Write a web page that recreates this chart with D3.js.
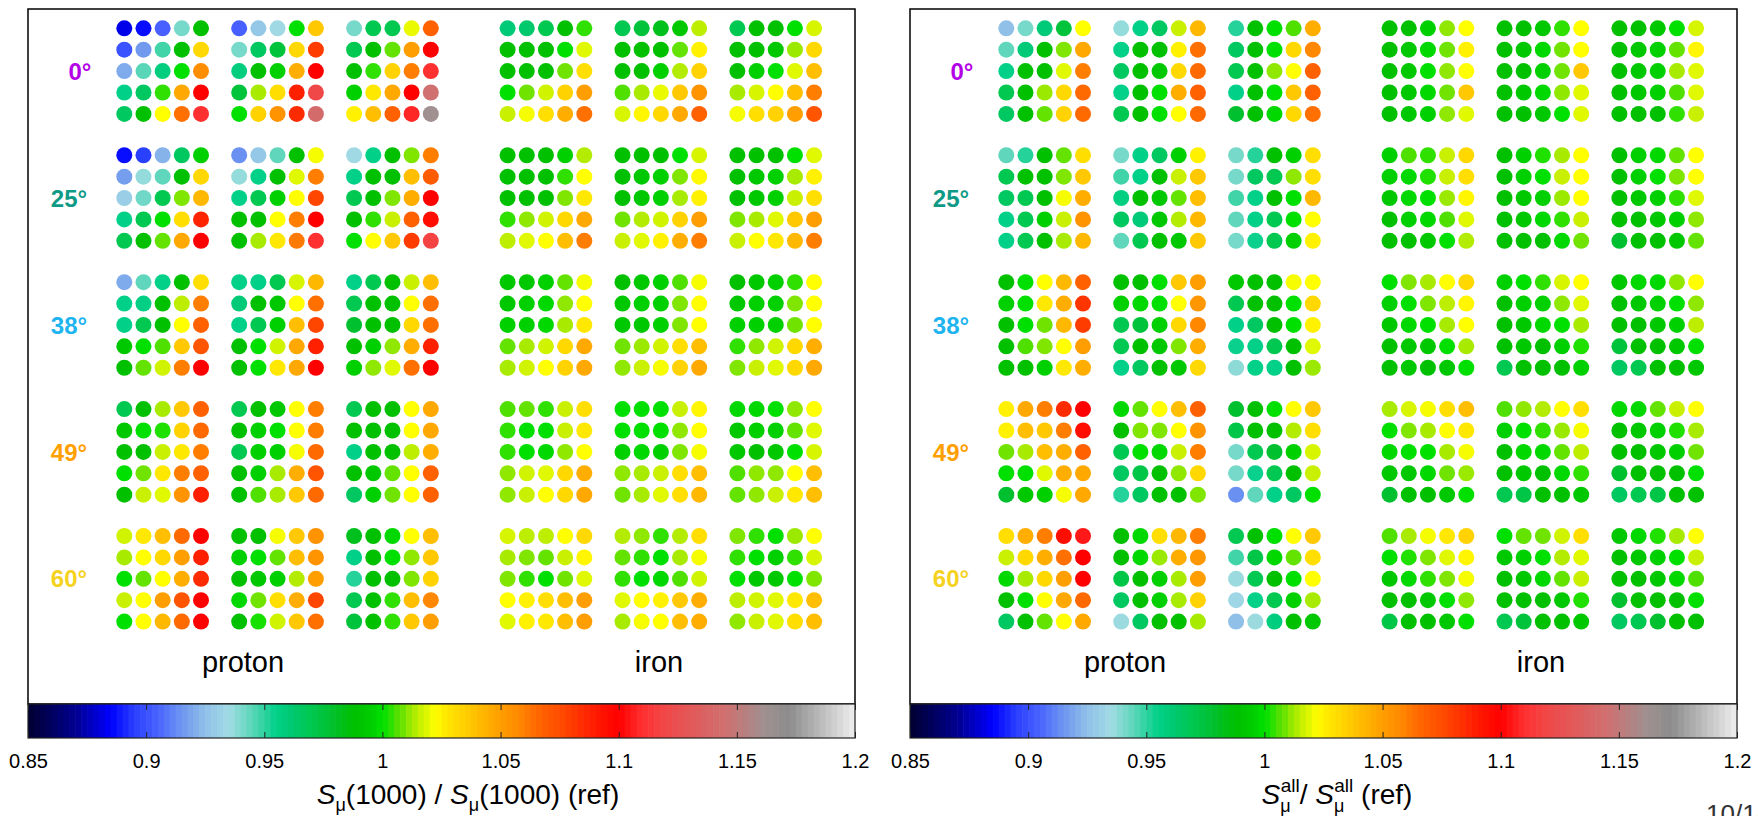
<!DOCTYPE html>
<html>
<head>
<meta charset="utf-8">
<script src="https://cdn.jsdelivr.net/npm/d3@7"></script>
<style>
  body { margin: 0; background: #fff; }
  svg { display: block; font-family: "Liberation Sans", Arial, sans-serif; }
</style>
</head>
<body>
<svg id="chart" width="1758" height="816"></svg>
<script>
/* Muon signal ratio maps, 5 zenith rows x 6 energy/primary groups x 5x5 grid.
 * Groups 0-2 are proton, 3-5 iron. Values read by eye from the colours.
 */

var zenithLabels = ["0°", "25°", "38°", "49°", "60°"];
var primaries = ["proton", "iron"];
var ratioTicks = [0.85, 0.9, 0.95, 1, 1.05, 1.1, 1.15, 1.2];

// left panel: S_mu(1000) / S_mu(1000)(ref)
var muRatio1000 = [
  [ // 0 deg
    [.882,.887,.904,.941,.988, .900,.916,.948,.988,1.032, .920,.945,.958,1.000,1.056, .955,.966,1.004,1.047,1.100, .966,.988,1.022,1.063,1.110],
    [.904,.928,.934,1.000,1.037, .941,.966,.975,1.032,1.080, .958,.988,.996,1.045,1.100, .975,1.013,1.030,1.088,1.120, 1.000,1.034,1.054,1.085,1.142],
    [.941,.970,.970,1.020,1.068, .970,.988,1.008,1.050,1.100, .988,1.004,1.034,1.060,1.110, .996,1.027,1.047,1.100,1.145, 1.025,1.040,1.068,1.108,1.162],
    [.960,.963,.970,.988,1.004, .988,.988,.988,1.000,1.019, .988,.988,.988,1.009,1.030, 1.000,1.009,1.017,1.034,1.050, 1.016,1.021,1.030,1.045,1.063],
    [.970,.975,.982,.993,1.015, .988,.988,.988,1.008,1.025, .988,.988,.996,1.014,1.034, 1.006,1.013,1.020,1.037,1.054, 1.018,1.024,1.032,1.047,1.068],
    [.970,.988,.988,1.000,1.018, .988,.988,.993,1.012,1.032, .988,.996,1.000,1.019,1.040, 1.013,1.018,1.022,1.040,1.060, 1.021,1.030,1.034,1.050,1.072]
  ],
  [ // 25 deg
    [.887,.895,.922,.966,.996, .917,.937,.944,.988,1.032, .930,.942,.970,1.010,1.042, .955,.970,1.000,1.030,1.087, .970,.988,1.008,1.047,1.100],
    [.914,.928,.944,.988,1.021, .937,.955,.988,1.019,1.060, .955,.970,.996,1.022,1.077, .988,.988,1.022,1.060,1.100, .988,1.013,1.027,1.061,1.110],
    [.934,.955,.988,1.010,1.060, .955,.988,.988,1.040,1.070, .970,.988,1.010,1.045,1.100, .988,1.004,1.016,1.068,1.095, 1.000,1.022,1.037,1.080,1.118],
    [.988,.988,.988,.996,1.014, .988,.988,.988,1.004,1.022, .988,.988,.988,1.010,1.027, 1.004,1.011,1.017,1.032,1.047, 1.015,1.019,1.022,1.040,1.060],
    [.988,.988,.988,1.000,1.018, .988,.993,.996,1.010,1.023, .988,.993,.996,1.013,1.025, 1.009,1.014,1.017,1.034,1.050, 1.016,1.019,1.025,1.045,1.060],
    [.988,.988,.988,1.000,1.019, .988,.993,.996,1.013,1.025, .988,.993,.996,1.016,1.030, 1.010,1.013,1.019,1.037,1.050, 1.016,1.022,1.027,1.042,1.060]
  ],
  [ // 38 deg
    [.920,.944,.955,.988,1.030, .955,.956,.988,1.015,1.060, .955,.970,.988,1.022,1.068, .993,1.000,1.006,1.037,1.072, .988,1.008,1.017,1.060,1.100],
    [.955,.955,.970,1.018,1.042, .960,.988,.993,1.022,1.063, .955,.970,.996,1.040,1.077, .988,1.000,1.017,1.047,1.088, .988,1.000,1.027,1.047,1.100],
    [.955,.970,.988,1.016,1.040, .970,.988,.988,1.022,1.063, .978,.988,.988,1.032,1.063, .988,.996,1.011,1.045,1.088, .996,1.011,1.019,1.063,1.100],
    [.993,.993,.996,1.008,1.021, .993,.996,.998,1.011,1.022, .996,.996,.998,1.013,1.027, 1.008,1.013,1.017,1.032,1.047, 1.013,1.017,1.022,1.034,1.047],
    [.988,.993,.996,1.006,1.021, .993,.996,.996,1.010,1.022, .993,.993,.996,1.010,1.022, 1.009,1.012,1.017,1.030,1.040, 1.011,1.016,1.021,1.034,1.047],
    [.988,.993,.996,1.004,1.022, .993,.996,.996,1.010,1.022, .996,.996,.996,1.009,1.022, 1.004,1.011,1.017,1.032,1.045, 1.010,1.016,1.019,1.032,1.047]
  ],
  [ // 49 deg
    [.970,.988,1.013,1.037,1.068, .993,1.000,1.003,1.034,1.065, .988,.988,1.016,1.027,1.060, 1.000,1.009,1.027,1.060,1.068, .988,1.016,1.019,1.054,1.088],
    [.970,.988,.993,1.022,1.060, .988,.996,1.000,1.022,1.060, .970,.996,.996,1.021,1.065, .988,.996,1.013,1.045,1.072, .988,1.006,1.013,1.037,1.065],
    [.970,.988,.988,1.022,1.047, .988,.988,.988,1.022,1.047, .955,.988,.988,1.015,1.045, .988,.993,1.008,1.022,1.068, .966,.996,1.009,1.022,1.068],
    [1.006,1.008,1.004,1.016,1.030, 1.004,1.000,1.000,1.016,1.027, 1.004,1.000,.998,1.011,1.022, 1.011,1.017,1.019,1.032,1.045, 1.011,1.016,1.022,1.032,1.047],
    [1.000,1.000,1.000,1.016,1.024, 1.000,1.000,1.000,1.011,1.022, .996,.998,.996,1.010,1.021, 1.011,1.013,1.016,1.030,1.040, 1.009,1.013,1.019,1.030,1.042],
    [.998,.998,1.000,1.011,1.022, .993,.996,.996,1.008,1.019, .993,.988,.993,1.000,1.018, 1.006,1.011,1.011,1.022,1.040, 1.008,1.011,1.016,1.027,1.040]
  ],
  [ // 60 deg
    [1.017,1.027,1.040,1.065,1.100, 1.013,1.022,1.032,1.050,1.088, 1.000,1.008,1.022,1.045,1.085, 1.016,1.022,1.050,1.072,1.100, 1.000,1.022,1.042,1.065,1.100],
    [.988,.988,1.021,1.037,1.054, .996,1.000,1.008,1.040,1.054, .988,.993,.996,1.014,1.050, .998,1.009,1.030,1.045,1.077, .988,1.002,1.017,1.037,1.063],
    [.982,.988,.998,1.022,1.040, .955,.988,1.000,1.011,1.037, .951,.988,.988,1.010,1.034, .970,.988,1.004,1.040,1.058, .975,.988,1.004,1.037,1.050],
    [1.018,1.015,1.015,1.022,1.032, 1.013,1.010,1.008,1.016,1.024, 1.010,1.004,1.000,1.009,1.019, 1.022,1.025,1.030,1.040,1.050, 1.019,1.025,1.027,1.040,1.050],
    [1.014,1.011,1.004,1.014,1.030, 1.008,1.004,1.000,1.013,1.021, 1.004,1.000,.998,1.006,1.017, 1.019,1.022,1.025,1.037,1.045, 1.013,1.021,1.022,1.040,1.045],
    [1.010,1.004,1.000,1.012,1.022, 1.004,1.000,.996,1.004,1.018, 1.000,.993,.993,1.000,1.010, 1.015,1.017,1.019,1.027,1.040, 1.011,1.016,1.019,1.030,1.040]
  ]
];

// right panel: S_mu^all / S_mu^all(ref)
var muRatioAll = [
  [ // 0 deg
    [.925,.941,.960,.975,1.022, .944,.960,.988,1.010,1.047, .955,.988,.988,1.019,1.060, .970,.988,1.012,1.032,1.065, .966,.988,1.008,1.034,1.065],
    [.937,.955,.966,1.016,1.042, .955,.988,.988,1.025,1.063, .966,.988,.993,1.032,1.065, .955,.988,1.000,1.045,1.068, .970,.988,1.000,1.022,1.065],
    [.951,.988,1.000,1.006,1.045, .966,.988,1.000,1.032,1.058, .970,.988,1.011,1.022,1.068, .955,.988,1.000,1.037,1.068, .978,.988,.998,1.032,1.063],
    [.988,.988,.996,1.011,1.022, .988,.993,.998,1.009,1.025, .988,.993,1.000,1.011,1.022, .988,.993,.998,1.009,1.037, .988,.993,.996,1.011,1.019],
    [.988,.988,.993,1.004,1.022, .988,.993,.998,1.009,1.022, .988,.988,.996,1.009,1.037, .988,.993,.998,1.011,1.019, .988,.988,.993,1.000,1.019],
    [.988,.988,.993,1.000,1.018, .988,.993,.996,1.008,1.024, .988,.993,.996,1.013,1.019, .988,.993,.996,1.006,1.019, .988,.988,.988,1.004,1.016]
  ],
  [ // 25 deg
    [.944,.951,.988,1.008,1.030, .970,.988,.988,1.010,1.037, .966,.970,.988,1.021,1.045, .955,.970,.996,1.016,1.054, .955,.970,.988,1.013,1.042],
    [.941,.955,.966,.996,1.025, .948,.955,.988,1.016,1.037, .957,.988,.993,1.008,1.040, .966,.960,.993,1.014,1.042, .944,.970,.988,.993,1.037],
    [.941,.951,.988,.996,1.030, .941,.966,.970,1.011,1.030, .948,.955,.988,1.000,1.042, .944,.955,.970,1.000,1.022, .941,.954,.970,.996,1.025],
    [.996,1.006,1.004,1.016,1.032, .996,.998,1.003,1.016,1.030, .993,.998,1.000,1.012,1.024, .988,.996,.998,1.006,1.019, .988,.988,.993,1.000,1.014],
    [.988,.996,1.003,1.013,1.022, .988,.996,1.000,1.016,1.022, .988,.993,.996,1.012,1.022, .988,.993,.998,1.004,1.016, .988,.988,.988,.998,1.009],
    [.988,.996,.998,1.008,1.022, .988,.996,1.000,1.010,1.022, .988,.993,.996,1.004,1.019, .988,.988,.993,.996,1.011, .978,.988,.988,.993,1.008]
  ],
  [ // 38 deg
    [.988,1.000,1.022,1.042,1.068, .996,1.000,1.027,1.045,1.082, .988,1.000,1.009,1.042,1.080, .988,1.006,1.010,1.022,1.050, .988,.988,.996,1.027,1.045],
    [.988,.988,1.000,1.037,1.050, .996,.998,1.000,1.022,1.052, .970,.975,.996,1.032,1.058, .970,.988,.993,1.010,1.045, .955,.966,.988,.993,1.032],
    [.993,.988,.988,1.021,1.022, .970,.988,.988,1.000,1.032, .955,.966,.988,1.000,1.025, .954,.955,.970,.988,1.019, .938,.955,.955,.988,1.012],
    [1.000,1.010,1.013,1.022,1.032, .996,1.000,1.010,1.015,1.024, .993,.998,1.000,1.013,1.022, .988,.993,.993,1.000,1.013, .988,.993,.988,.993,1.000],
    [.996,1.000,1.004,1.018,1.022, .988,.996,.996,1.011,1.019, .988,.993,.998,1.000,1.013, .988,.993,.988,.996,1.003, .970,.988,.988,.988,.996],
    [.993,.998,.998,1.011,1.022, .988,.993,.996,1.000,1.011, .988,.988,.993,.996,1.015, .975,.988,.988,.993,1.000, .966,.970,.988,.988,.993]
  ],
  [ // 49 deg
    [1.025,1.047,1.060,1.085,1.100, 1.025,1.040,1.037,1.060,1.095, 1.009,1.013,1.040,1.045,1.068, 1.000,1.000,1.019,1.045,1.047, .978,.993,.996,1.021,1.047],
    [.998,1.008,1.022,1.040,1.068, .988,1.010,1.010,1.022,1.054, .970,1.000,.998,1.016,1.060, .966,.972,.988,1.011,1.032, .951,.966,.988,.988,1.010],
    [.978,.988,1.000,1.022,1.037, .972,.988,.988,1.014,1.030, .941,.970,.978,.996,1.018, .941,.954,.970,.988,1.016, .914,.944,.955,.966,1.000],
    [1.013,1.018,1.021,1.030,1.040, 1.000,1.010,1.013,1.022,1.027, .998,1.000,1.000,1.013,1.021, .993,.993,.998,1.009,1.012, .978,.988,.988,.993,1.000],
    [1.006,1.011,1.014,1.022,1.030, .996,1.000,1.004,1.012,1.021, .988,.998,.998,1.008,1.015, .988,.993,.988,.998,1.004, .970,.972,.988,.988,.993],
    [.998,.998,1.008,1.016,1.022, .988,.993,.996,1.003,1.013, .988,.988,.993,.996,1.009, .978,.988,.988,.988,1.000, .966,.970,.972,.988,.988]
  ],
  [ // 60 deg
    [1.030,1.045,1.060,1.095,1.105, 1.016,1.032,1.045,1.063,1.100, .998,1.013,1.032,1.050,1.100, .988,1.000,1.022,1.047,1.065, .966,.988,1.008,1.022,1.047],
    [.988,.998,1.030,1.042,1.060, .988,.998,1.012,1.045,1.052, .972,.988,.996,1.013,1.050, .966,.988,.996,1.013,1.034, .936,.966,.988,.988,1.013],
    [.970,.988,1.000,1.022,1.037, .948,.972,.998,1.008,1.030, .936,.970,.988,1.000,1.022, .933,.955,.970,.996,1.013, .925,.936,.958,.988,.993],
    [1.006,1.013,1.021,1.027,1.034, 1.000,1.003,1.010,1.019,1.024, .993,.998,1.004,1.010,1.021, .988,.988,.993,1.000,1.011, .972,.988,.988,.993,1.000],
    [1.000,1.008,1.009,1.017,1.030, .993,.996,1.000,1.014,1.019, .988,.993,.998,1.008,1.016, .988,.988,.988,.993,1.003, .970,.975,.988,.988,.993],
    [.993,.998,1.003,1.013,1.022, .988,.993,.996,1.000,1.016, .988,.988,.993,.998,1.006, .978,.988,.988,.988,1.000, .966,.970,.978,.988,.988]
  ]
];

/* ---------------- styling ---------------- */

var zenithColors = ["#b400e6", "#0f9a86", "#1eb4f0", "#ff9f00", "#f5d21e"];

// ROOT-like palette, piecewise linear
var paletteStops = [0.85, 0.87, 0.885, 0.895, 0.905, 0.915, 0.925, 0.935, 0.942, 0.948, 0.955, 0.962,
  0.97, 0.978, 0.988, 0.993, 0.996, 0.998, 1.0, 1.003, 1.006, 1.009, 1.011, 1.013, 1.016, 1.019, 1.022,
  1.027, 1.032, 1.037, 1.042, 1.047, 1.052, 1.058, 1.063, 1.068, 1.074, 1.08, 1.088, 1.1, 1.11, 1.12,
  1.145, 1.162, 1.172, 1.2];
var paletteColors = ["#000030", "#000090", "#0000ff", "#2a40ff", "#4a64ff", "#6e96f0", "#90c0e8", "#a2dce4",
  "#70d8c6", "#40d4a8", "#00d088", "#00c870", "#00c850", "#00c030", "#00c000", "#00c800", "#00d000",
  "#00d800", "#00e000", "#20e000", "#50e000", "#70e400", "#90e800", "#a8ea00", "#c8f000", "#e0f800",
  "#ffff00", "#ffe800", "#ffd800", "#ffc800", "#ffb800", "#ffa800", "#ff9800", "#ff8800", "#ff7000",
  "#ff6000", "#ff5000", "#ff3c00", "#ff2000", "#ff0000", "#ff3030", "#f04848", "#d07070", "#a09090",
  "#8c8c8c", "#eeeeee"];

var color = d3.scaleLinear().domain(paletteStops).range(paletteColors).clamp(true);

var svg = d3.select("#chart");

var frame = {left: 28, right: 855, top: 9, bottom: 704};
var barHeight = 34;

var panels = [
  {dx: 0, values: muRatio1000, kind: "1000", titleX: 468},
  {dx: 882, values: muRatioAll, kind: "all", titleX: 1337}
];

// dot layout
var colX = d3.scaleLinear().domain([0, 4]).range([0, 76.7]);
var rowY = d3.scaleLinear().domain([0, 4]).range([0, 85.6]);
var groupX = d3.scaleLinear().domain([0, 2]).range([0, 229.8]);
var primaryX = d3.scaleOrdinal().domain(primaries).range([124.3, 507.6]);
var zenithY = d3.scaleLinear().domain([0, 4]).range([28.3, 536]);

panels.forEach(function (p) {
  var g = svg.append("g").attr("transform", "translate(" + p.dx + ",0)");

  // flatten into dots
  var dots = [];
  p.values.forEach(function (zen, zi) {
    zen.forEach(function (grid, gi) {
      grid.forEach(function (v, i) {
        dots.push({
          z: zi,
          primary: primaries[Math.floor(gi / 3)],
          e: gi % 3,
          row: Math.floor(i / 5),
          col: i % 5,
          v: v
        });
      });
    });
  });

  g.selectAll("circle.dot")
    .data(dots)
    .enter().append("circle")
    .attr("class", "dot")
    .attr("cx", function (d) { return primaryX(d.primary) + groupX(d.e) + colX(d.col); })
    .attr("cy", function (d) { return zenithY(d.z) + rowY(d.row); })
    .attr("r", 8)
    .attr("fill", function (d) { return color(d.v); });

  // zenith labels
  g.selectAll("text.zen")
    .data(zenithLabels)
    .enter().append("text")
    .attr("class", "zen")
    .attr("x", function (d, i) { return i === 0 ? 80 : 69; })
    .attr("y", function (d, i) { return zenithY(i) + rowY(2); })
    .attr("dy", "0.36em")
    .attr("text-anchor", "middle")
    .attr("font-size", 24)
    .attr("font-weight", "bold")
    .attr("fill", function (d, i) { return zenithColors[i]; })
    .text(function (d) { return d; });

  // primary labels
  g.selectAll("text.prim")
    .data(primaries)
    .enter().append("text")
    .attr("class", "prim")
    .attr("x", function (d) { return d === "proton" ? 243 : 659; })
    .attr("y", 672)
    .attr("text-anchor", "middle")
    .attr("font-size", 29)
    .text(function (d) { return d; });

  // frame
  g.append("rect")
    .attr("x", frame.left).attr("y", frame.top)
    .attr("width", frame.right - frame.left)
    .attr("height", frame.bottom - frame.top)
    .attr("fill", "none").attr("stroke", "#000").attr("stroke-width", 1.5);

  // colour bar
  var bx = d3.scaleLinear().domain([0.85, 1.2]).range([frame.left, frame.right]);
  var nBins = 140;
  var step = (1.2 - 0.85) / nBins;
  g.selectAll("rect.bin")
    .data(d3.range(nBins))
    .enter().append("rect")
    .attr("class", "bin")
    .attr("x", function (i) { return bx(0.85 + i * step); })
    .attr("y", frame.bottom)
    .attr("width", bx(0.85 + step) - bx(0.85) + 0.6)
    .attr("height", barHeight)
    .attr("fill", function (i) { return color(0.85 + (i + 0.5) * step); });

  g.append("rect")
    .attr("x", frame.left).attr("y", frame.bottom)
    .attr("width", frame.right - frame.left).attr("height", barHeight)
    .attr("fill", "none").attr("stroke", "#222").attr("stroke-width", 1.2);

  var axB = g.append("g")
    .attr("transform", "translate(0," + (frame.bottom + barHeight) + ")")
    .call(d3.axisBottom(bx).tickValues(ratioTicks).tickSize(-6).tickPadding(16)
      .tickFormat(d3.format("~g")));
  axB.select(".domain").remove();
  axB.selectAll("text").attr("font-size", 20).attr("font-family", "Liberation Sans, Arial, sans-serif").attr("fill", "#000");
  axB.selectAll("line").attr("stroke", "#222");

  var axT = g.append("g")
    .attr("transform", "translate(0," + frame.bottom + ")")
    .call(d3.axisTop(bx).tickValues(ratioTicks).tickSize(-6).tickFormat(""));
  axT.select(".domain").remove();
  axT.selectAll("line").attr("stroke", "#222");

  // axis title
  var t = g.append("text")
    .attr("x", p.titleX - p.dx).attr("y", 804)
    .attr("text-anchor", "middle")
    .attr("font-size", 28);
  if (p.kind === "1000") {
    t.append("tspan").attr("font-style", "italic").text("S");
    t.append("tspan").attr("font-size", 18).attr("dy", 7).text("μ");
    t.append("tspan").attr("dy", -7).text("(1000) / ");
    t.append("tspan").attr("font-style", "italic").text("S");
    t.append("tspan").attr("font-size", 18).attr("dy", 7).text("μ");
    t.append("tspan").attr("dy", -7).text("(1000) (ref)");
  } else {
    for (var k = 0; k < 2; k++) {
      t.append("tspan").attr("font-style", "italic").text("S");
      t.append("tspan").attr("font-size", 18).attr("dy", 8).text("μ");
      t.append("tspan").attr("font-size", 19).attr("dx", -10).attr("dy", -20).text("all");
      t.append("tspan").attr("dy", 12).text(k === 0 ? "/ " : " (ref)");
    }
  }
});

// page number, cut by the bottom edge as in the original
svg.append("text")
  .attr("x", 1706).attr("y", 823)
  .attr("font-size", 26)
  .attr("fill", "#333")
  .text("10/14");
</script>
</body>
</html>
